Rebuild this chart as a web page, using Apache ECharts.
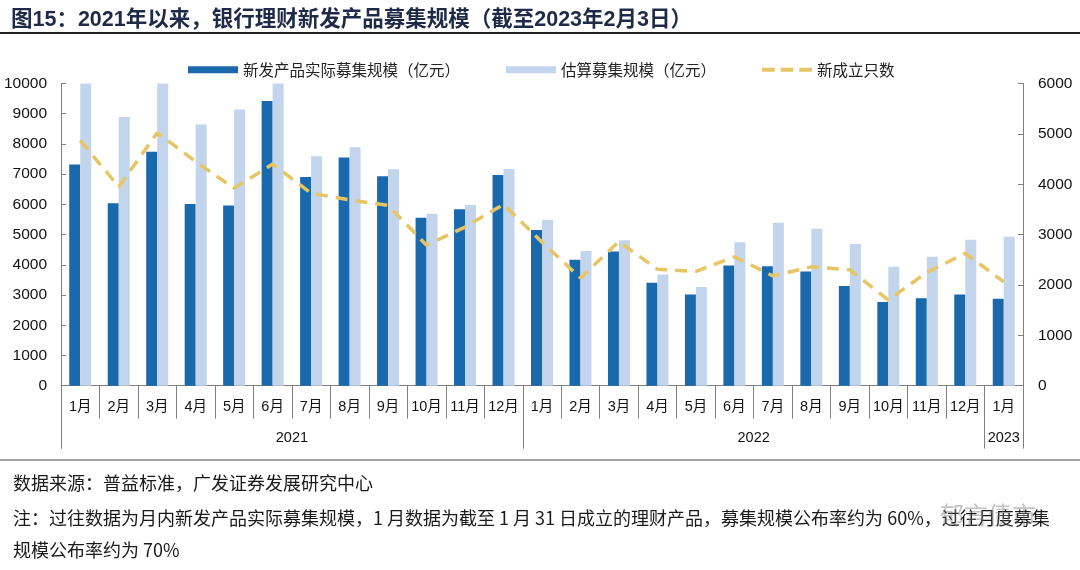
<!DOCTYPE html>
<html>
<head>
<meta charset="utf-8">
<script src="https://cdn.jsdelivr.net/npm/echarts@6/dist/echarts.min.js"></script>
<style>
html,body{margin:0;padding:0;background:#fff;}
#chart{width:1080px;height:570px;}
</style>
</head>
<body>
<div id="chart"></div>
<script>
const months = ['1月','2月','3月','4月','5月','6月','7月','8月','9月','10月','11月','12月',
                '1月','2月','3月','4月','5月','6月','7月','8月','9月','10月','11月','12月','1月'];
const years = ['2021','2022','2023'];
const yearMonthCounts = [12, 12, 1];
const actualRaised = [7320,6040,7740,6010,5960,9420,6910,7550,6930,5560,5840,6970,
                      5150,4170,4440,3410,3020,3980,3950,3780,3300,2770,2890,3020,2880];
const estimatedRaised = [10000,8890,10000,8640,9140,10000,7590,7890,7160,5690,5980,7170,
                         5480,4460,4810,3680,3270,4750,5390,5190,4690,3940,4270,4830,4930];
const newCount = [4870,3950,5020,4450,3920,4400,3820,3690,3580,2790,3150,3600,
                  2850,2140,2860,2310,2270,2560,2180,2360,2300,1700,2250,2630,2060];
const leftTicks = {min:0, max:10000, interval:1000};
const rightTicks = {min:0, max:6000, interval:1000};
const seriesNames = ['新发产品实际募集规模（亿元）','估算募集规模（亿元）','新成立只数'];
const titleText = '图15：2021年以来，银行理财新发产品募集规模（截至2023年2月3日）';
const sourceText = '数据来源：普益标准，广发证券发展研究中心';
const noteLine1 = '注：过往数据为月内新发产品实际募集规模，1 月数据为截至 1 月 31 日成立的理财产品，募集规模公布率约为 60%，过往月度募集';
const noteLine2 = '规模公布率约为 70%';

// year boundaries & label centres computed from month counts
const yearBounds = [0];
yearMonthCounts.forEach(c => yearBounds.push(yearBounds[yearBounds.length-1] + c));
const yearCenters = yearMonthCounts.map((c, i) => yearBounds[i] + c / 2);

const NUM = '"Liberation Sans", Arial, "Noto Sans CJK SC", sans-serif';
const NARROW = '"Liberation Sans Narrow", "Liberation Sans", Arial, "Noto Sans CJK SC", sans-serif';
const CJK = '"Noto Sans CJK SC", "Liberation Sans", sans-serif';
const axisGrey = '#808080';
const plain = v => String(v);

const chart = echarts.init(document.getElementById('chart'), null, {renderer:'canvas'});
chart.setOption({
  animation: false,
  backgroundColor: '#fff',
  title: [
    {text: titleText, left: 6, top: 3,
     textStyle: {fontSize: 21.5, fontWeight: 'bold', color: '#1e2a48', fontFamily: NUM, lineHeight: 25}},
    {text: sourceText, left: 8, top: 468,
     textStyle: {fontSize: 18, fontWeight: 'normal', color: '#1a1a1a', fontFamily: CJK, lineHeight: 21}},
    {text: noteLine1, left: 8, top: 503,
     textStyle: {fontSize: 18, fontWeight: 'normal', color: '#1a1a1a', fontFamily: CJK, lineHeight: 21}},
    {text: noteLine2, left: 8, top: 535,
     textStyle: {fontSize: 18, fontWeight: 'normal', color: '#1a1a1a', fontFamily: CJK, lineHeight: 21}}
  ],
  graphic: [
    {type:'line', shape:{x1:0, y1:33, x2:1080, y2:33}, style:{stroke:'#222', lineWidth:2}},
    {type:'line', shape:{x1:0, y1:460, x2:1080, y2:460}, style:{stroke:'#444', lineWidth:1}},
    {type:'text', left: 940, top: 503, z: 100,
     style:{text:'郁言债市', fontSize: 24, fill:'rgba(120,120,120,0.45)', fontFamily: CJK}}
  ],
  legend: {
    left: 183, top: 57,
    itemWidth: 50, itemHeight: 7, itemGap: 46,
    textStyle: {fontSize: 15.5, color: '#222', fontFamily: CJK},
    data: [
      {name: seriesNames[0], icon: 'rect'},
      {name: seriesNames[1], icon: 'rect'},
      {name: seriesNames[2], icon: 'path://M0,0h13v4h-13zM19,0h13v4h-13zM38,0h13v4h-13z',
       itemStyle: {color: '#e6c664'}}
    ]
  },
  grid: {left: 61, right: 57, top: 83.5, bottom: 184.3, containLabel: false},
  xAxis: [
    {
      type: 'category', data: months, boundaryGap: true, position: 'bottom',
      axisLine: {show: true, lineStyle: {color: axisGrey, width: 1}},
      axisTick: {show: true, interval: 0, length: 33, lineStyle: {color: axisGrey}},
      axisLabel: {interval: 0, margin: 14, fontSize: 14.5, color: '#111', fontFamily: NARROW}
    },
    {
      type: 'value', min: 0, max: months.length, position: 'bottom',
      axisLine: {show: false},
      splitLine: {show: false},
      axisTick: {show: true, customValues: yearBounds, length: 63, lineStyle: {color: axisGrey}},
      axisLabel: {customValues: yearCenters, margin: 45, fontSize: 14.5, color: '#111', fontFamily: NARROW,
        formatter: function (v) {
          const i = yearCenters.findIndex(c => Math.abs(c - v) < 1e-6);
          return i >= 0 ? years[i] : '';
        }}
    }
  ],
  yAxis: [
    {
      type: 'value', min: leftTicks.min, max: leftTicks.max, interval: leftTicks.interval,
      axisLine: {show: true, lineStyle: {color: axisGrey}},
      axisTick: {show: true, inside: true, length: 5, lineStyle: {color: axisGrey}},
      splitLine: {show: false},
      axisLabel: {margin: 14, fontSize: 15.5, color: '#111', fontFamily: NUM, formatter: plain}
    },
    {
      type: 'value', min: rightTicks.min, max: rightTicks.max, interval: rightTicks.interval, position: 'right',
      axisLine: {show: true, lineStyle: {color: axisGrey}},
      axisTick: {show: true, inside: true, length: 5, lineStyle: {color: axisGrey}},
      splitLine: {show: false},
      axisLabel: {margin: 15, fontSize: 15.5, color: '#111', fontFamily: NUM, formatter: plain}
    }
  ],
  series: [
    {name: seriesNames[0], type: 'bar', xAxisIndex: 0, yAxisIndex: 0, data: actualRaised,
     barWidth: 11, barGap: '0%', itemStyle: {color: '#1b69ad'}},
    {name: seriesNames[1], type: 'bar', xAxisIndex: 0, yAxisIndex: 0, data: estimatedRaised,
     barWidth: 11, barGap: '0%', itemStyle: {color: '#c3d5ec'}},
    {name: seriesNames[2], type: 'line', xAxisIndex: 0, yAxisIndex: 1, data: newCount,
     symbol: 'none', z: 5,
     lineStyle: {color: '#e6c664', width: 3.5, type: [12, 8]},
     itemStyle: {color: '#e6c664'}}
  ]
});
</script>
</body>
</html>
